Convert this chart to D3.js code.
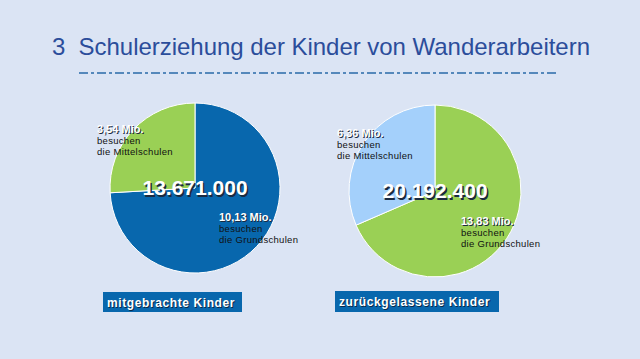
<!DOCTYPE html>
<html>
<head>
<meta charset="utf-8">
<script src="https://cdn.jsdelivr.net/npm/d3@7"></script>
<style>
  body { margin: 0; background: #dbe4f4; }
  svg { display: block; font-family: "Liberation Sans", Arial, sans-serif; }
</style>
</head>
<body>
<div id="chart"></div>
<script>
// data
var pieTitles = ["mitgebrachte Kinder", "zurückgelassene Kinder"];
var totals = ["13.671.000", "20.192.400"];
var grundValues = [10.13, 13.83];
var mittelValues = [3.54, 6.36];
var grundLabels = ["10,13 Mio.", "13,83 Mio."];
var mittelLabels = ["3,54 Mio.", "6,36 Mio."];

var width = 640, height = 359;
var svg = d3.select("#chart").append("svg")
    .attr("width", width).attr("height", height);

svg.append("rect").attr("width", width).attr("height", height).attr("fill", "#dbe4f4");

// title
svg.append("text")
    .attr("x", 52).attr("y", 55)
    .attr("fill", "#2b4d9b")
    .style("font-size", "24px")
    .style("white-space", "pre")
    .attr("textLength", 538)
    .text("3  Schulerziehung der Kinder von Wanderarbeitern");

svg.append("line")
    .attr("x1", 79).attr("x2", 558)
    .attr("y1", 73).attr("y2", 73)
    .attr("stroke", "#2a6aa8").attr("stroke-width", 1.5)
    .attr("stroke-dasharray", "9,3,3,3");

// one pie per group
var pies = [
  {cx: 195, cy: 188, r: 85, colors: ["#0867ad", "#9ad055"], box: [103, 292, 139, 20], mPos: [97, 133], gPos: [219, 221]},
  {cx: 435, cy: 191, r: 86, colors: ["#9ad055", "#a4d0fb"], box: [335, 291, 164, 21], mPos: [337, 137], gPos: [461, 225]}
];

var pie = d3.pie().sort(null).value(function(d){ return d; });
var arc = d3.arc().innerRadius(0);

pies.forEach(function(p, i) {
  var g = svg.append("g").attr("transform", "translate(" + p.cx + "," + p.cy + ")");
  g.selectAll("path")
    .data(pie([grundValues[i], mittelValues[i]]))
    .enter().append("path")
      .attr("d", function(d){ return arc.outerRadius(p.r)(d); })
      .attr("fill", function(d, j){ return p.colors[j]; })
      .attr("stroke", "#ffffff").attr("stroke-width", 1);

  // big total
  [[1.5, 1.5, "#1a2a40"], [0, 0, "#ffffff"]].forEach(function(s) {
    g.append("text")
      .attr("x", s[0]).attr("y", 7 + s[1])
      .attr("text-anchor", "middle")
      .attr("fill", s[2])
      .style("font-size", "21px").style("font-weight", "bold")
      .text(totals[i]);
  });

  // slice labels
  function sliceLabel(pos, head) {
    [[1, 1, "#1a2a40"], [0, 0, "#ffffff"]].forEach(function(s) {
      svg.append("text")
        .attr("x", pos[0] + s[0]).attr("y", pos[1] + s[1])
        .attr("fill", s[2])
        .style("font-size", "11px").style("font-weight", "bold")
        .text(head);
    });
  }
  function subLabel(pos, lines) {
    lines.forEach(function(t, k) {
      svg.append("text")
        .attr("x", pos[0]).attr("y", pos[1] + 11 + k * 10.5)
        .attr("fill", "#111111")
        .style("font-size", "9.5px")
        .style("letter-spacing", "0.3px")
        .text(t);
    });
  }
  sliceLabel(p.mPos, mittelLabels[i]);
  subLabel(p.mPos, ["besuchen", "die Mittelschulen"]);
  sliceLabel(p.gPos, grundLabels[i]);
  subLabel(p.gPos, ["besuchen", "die Grundschulen"]);

  // caption box
  svg.append("rect")
    .attr("x", p.box[0]).attr("y", p.box[1])
    .attr("width", p.box[2]).attr("height", p.box[3])
    .attr("fill", "#0867ad");
  [[1, 1, "#0a2a4a"], [0, 0, "#ffffff"]].forEach(function(s) {
    svg.append("text")
      .attr("x", p.box[0] + 4 + s[0]).attr("y", p.box[1] + 15 + s[1])
      .attr("fill", s[2])
      .style("font-size", "12px").style("font-weight", "bold")
      .style("letter-spacing", "0.6px")
      .text(pieTitles[i]);
  });
});
</script>
</body>
</html>
